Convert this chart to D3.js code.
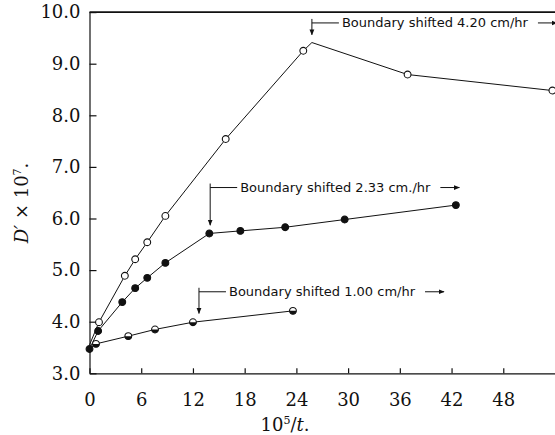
<!DOCTYPE html>
<meta charset="utf-8">
<style>
body { margin: 0; background: #fff; }
.axis text { font: 18px "DejaVu Serif", serif; fill: #111; }
.axis path, .axis line { stroke: #111; stroke-width: 1.2px; }
.line { fill: none; stroke: #111; stroke-width: 1px; }
.anno { font: 13px "DejaVu Sans", sans-serif; fill: #111; }
</style>
<svg width="555" height="435"></svg>
<script src="https://cdn.jsdelivr.net/npm/d3@7"></script>
<script>
// 4.20 cm/hr series (open circles); pt = 0 means line vertex with no marker
var openX  = [0, 1.1, 4.1, 5.3, 6.7, 8.8, 15.8, 24.8, 25.8, 36.9, 53.7];
var openY  = [3.55, 3.99, 4.89, 5.21, 5.54, 6.05, 7.54, 9.25, 9.41, 8.79, 8.48];
var openPt = [0, 1, 1, 1, 1, 1, 1, 1, 0, 1, 1];

// 2.33 cm/hr series (filled circles)
var fillX  = [0, 1.0, 3.8, 5.3, 6.7, 8.8, 13.9, 17.5, 22.7, 29.6, 42.5];
var fillY  = [3.47, 3.82, 4.38, 4.65, 4.85, 5.14, 5.71, 5.76, 5.83, 5.98, 6.26];
var fillPt = [1, 1, 1, 1, 1, 1, 1, 1, 1, 1, 1];

// 1.00 cm/hr series (half filled circles)
var halfX  = [0, 0.75, 4.5, 7.6, 12.0, 23.6];
var halfY  = [3.47, 3.57, 3.72, 3.85, 3.99, 4.21];
var halfPt = [0, 1, 1, 1, 1, 1];

var xTicks = [0, 6, 12, 18, 24, 30, 36, 42, 48];
var yTicks = [3, 4, 5, 6, 7, 8, 9, 10];

// annotations: text, x where the arrow drops, label level, arrow tip level
var annoText = ["Boundary shifted 4.20 cm/hr", "Boundary shifted 2.33 cm./hr", "Boundary shifted 1.00 cm/hr"];
var annoX    = [25.8, 14.0, 12.7];
var annoY    = [9.79, 6.60, 4.58];
var annoTip  = [9.56, 5.87, 4.16];

var svg = d3.select("svg"),
    pLeft = 89.5, pRight = 555, pTop = 12.1, pBottom = 373.3;

var x = d3.scaleLinear().domain([0, 54]).range([pLeft, pRight]),
    y = d3.scaleLinear().domain([3, 10]).range([pBottom, pTop]);

var defs = svg.append("defs");
defs.append("marker")
    .attr("id", "ah")
    .attr("viewBox", "0 0 10 10")
    .attr("refX", 9).attr("refY", 5)
    .attr("markerWidth", 6).attr("markerHeight", 6)
    .attr("markerUnits", "userSpaceOnUse")
    .attr("orient", "auto")
  .append("path")
    .attr("d", "M0,1L10,5L0,9Z")
    .attr("fill", "#111");

// axes
svg.append("g")
    .attr("class", "axis axis--x")
    .attr("transform", "translate(0," + pBottom + ")")
    .call(d3.axisBottom(x).tickValues(xTicks).tickSizeInner(-5).tickSizeOuter(0).tickPadding(19.5));

svg.append("g")
    .attr("class", "axis axis--y")
    .attr("transform", "translate(" + pLeft + ",0)")
    .call(d3.axisLeft(y).tickValues(yTicks).tickFormat(d3.format(".1f")).tickSizeInner(-7).tickSizeOuter(0).tickPadding(9));

// top frame line
svg.append("line")
    .attr("x1", pLeft).attr("x2", pRight)
    .attr("y1", y(10)).attr("y2", y(10))
    .attr("stroke", "#111").attr("stroke-width", 1.6);

// axis titles
var xt = svg.append("text")
    .attr("x", 285).attr("y", 430.5)
    .attr("text-anchor", "middle")
    .style("font", "18px 'DejaVu Serif', serif").style("fill", "#111");
xt.append("tspan").text("10");
xt.append("tspan").attr("dy", -7).style("font-size", "11px").text("5");
xt.append("tspan").attr("dy", 7).text("/");
xt.append("tspan").style("font-style", "italic").text("t");
xt.append("tspan").text(".");

var yt = svg.append("text")
    .attr("transform", "translate(28,203) rotate(-90)")
    .attr("text-anchor", "middle")
    .style("font", "18px 'DejaVu Serif', serif").style("fill", "#111");
yt.append("tspan").style("font-style", "italic").text("D′");
yt.append("tspan").text(" × 10");
yt.append("tspan").attr("dy", -7).style("font-size", "11px").text("7");
yt.append("tspan").attr("dy", 7).text(".");

// series
function build(xs, ys, pts) {
  return xs.map(function(v, i) { return {x: v, y: ys[i], pt: pts[i]}; });
}
var series = [
  {kind: "open", values: build(openX, openY, openPt)},
  {kind: "fill", values: build(fillX, fillY, fillPt)},
  {kind: "half", values: build(halfX, halfY, halfPt)}
];

var line = d3.line()
    .x(function(d) { return x(d.x); })
    .y(function(d) { return y(d.y); });

var r = 3.4;
var halfArc = d3.arc().innerRadius(0).outerRadius(r).startAngle(Math.PI / 2).endAngle(3 * Math.PI / 2);

var s = svg.selectAll(".series")
  .data(series)
  .enter().append("g")
    .attr("class", "series");

s.append("path")
    .attr("class", "line")
    .attr("d", function(d) { return line(d.values); });

s.each(function(ser) {
  var pts = d3.select(this).selectAll(".pt")
    .data(ser.values.filter(function(d) { return d.pt; }))
    .enter().append("g")
      .attr("class", "pt")
      .attr("transform", function(d) { return "translate(" + x(d.x) + "," + y(d.y) + ")"; });
  pts.append("circle")
      .attr("r", r)
      .attr("fill", ser.kind == "fill" ? "#111" : "#fff")
      .attr("stroke", "#111")
      .attr("stroke-width", 1.1);
  if (ser.kind == "half") {
    pts.append("path").attr("d", halfArc).attr("fill", "#111");
  }
});

// annotations
var a = svg.selectAll(".annot")
  .data(annoText.map(function(t, i) { return {t: t, x: annoX[i], y: annoY[i], tip: annoTip[i]}; }))
  .enter().append("g")
    .attr("class", "annot");

a.append("line")
    .attr("x1", function(d) { return x(d.x); }).attr("x2", function(d) { return x(d.x); })
    .attr("y1", function(d) { return y(d.y) - 4; }).attr("y2", function(d) { return y(d.tip); })
    .attr("stroke", "#111").attr("stroke-width", 1)
    .attr("marker-end", "url(#ah)");

a.append("line")
    .attr("x1", function(d) { return x(d.x); }).attr("x2", function(d) { return x(d.x) + 27; })
    .attr("y1", function(d) { return y(d.y); }).attr("y2", function(d) { return y(d.y); })
    .attr("stroke", "#111").attr("stroke-width", 1);

a.append("text")
    .attr("class", "anno")
    .attr("x", function(d) { return x(d.x) + 30; })
    .attr("y", function(d) { return y(d.y); })
    .attr("dy", "0.35em")
    .text(function(d) { return d.t; });

a.each(function(d) {
  var g = d3.select(this),
      w = g.select("text").node().getComputedTextLength(),
      x0 = x(d.x) + 30 + w + 10;
  g.append("line")
      .attr("x1", x0).attr("x2", x0 + 19)
      .attr("y1", y(d.y)).attr("y2", y(d.y))
      .attr("stroke", "#111").attr("stroke-width", 1)
      .attr("marker-end", "url(#ah)");
});
</script>
